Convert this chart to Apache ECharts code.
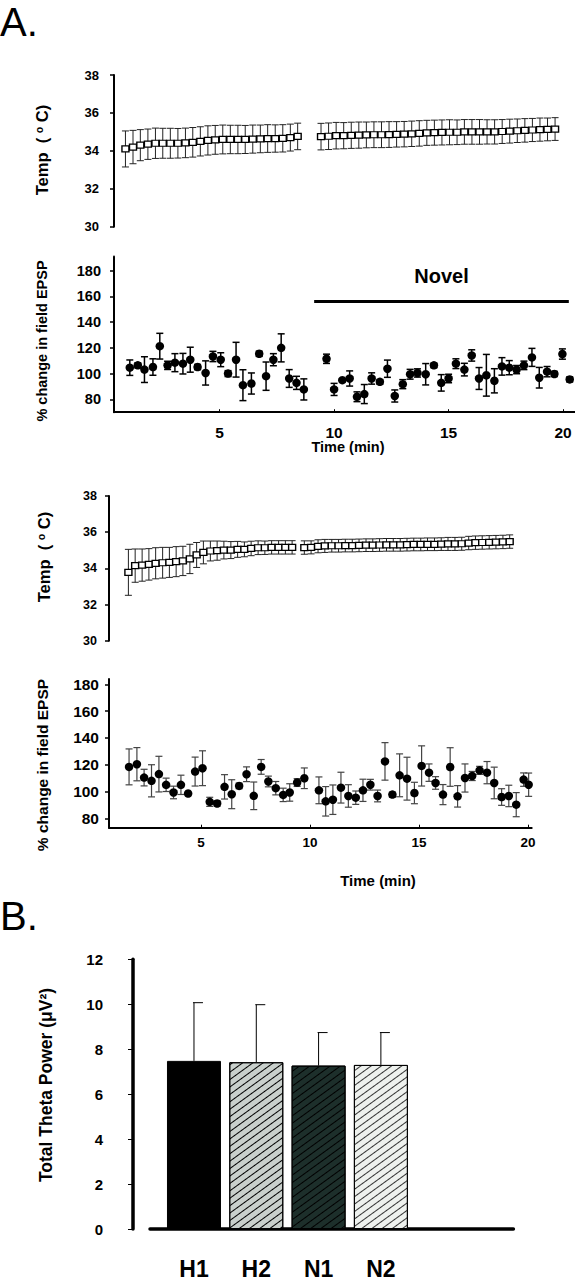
<!DOCTYPE html>
<html><head><meta charset="utf-8">
<script src="https://cdn.jsdelivr.net/npm/echarts@6/dist/echarts.min.js"></script>
<style>html,body{margin:0;padding:0;background:#fff}#c{width:575px;height:1280px}</style>
</head><body><div id="c"></div>
<script>
// ---------- Panel A, Novel: temperature ----------
const novelTempTime = [0.89,1.22,1.54,1.87,2.20,2.52,2.85,3.18,3.51,3.83,4.16,4.49,4.81,5.14,5.47,5.80,6.12,6.45,6.78,7.10,7.43,7.76,8.09,8.41,
  9.43,9.76,10.09,10.42,10.75,11.08,11.41,11.74,12.07,12.40,12.73,13.06,13.39,13.72,14.05,14.38,14.71,15.04,15.37,15.69,16.02,16.35,16.68,17.01,17.34,17.67,18.00,18.33,18.66,18.99,19.32,19.65];
const novelTempMean = [34.10,34.20,34.30,34.35,34.40,34.40,34.40,34.40,34.42,34.45,34.50,34.55,34.58,34.60,34.60,34.60,34.60,34.62,34.63,34.65,34.65,34.66,34.70,34.76,
  34.75,34.77,34.80,34.80,34.82,34.83,34.84,34.85,34.85,34.86,34.87,34.88,34.90,34.92,34.95,34.96,34.97,34.98,34.98,35.00,35.00,35.00,35.00,35.00,35.02,35.04,35.06,35.08,35.10,35.12,35.13,35.15];
const novelTempSem = [0.95,0.88,0.82,0.80,0.80,0.79,0.79,0.78,0.78,0.78,0.77,0.77,0.76,0.76,0.75,0.75,0.74,0.74,0.73,0.73,0.72,0.72,0.71,0.70,
  0.70,0.70,0.70,0.69,0.69,0.69,0.68,0.68,0.68,0.68,0.67,0.67,0.67,0.67,0.66,0.66,0.66,0.66,0.65,0.65,0.65,0.65,0.64,0.64,0.63,0.63,0.62,0.62,0.61,0.61,0.60,0.60];

// ---------- Panel A, Novel: field EPSP ----------
const novelEpspTime = [1.08,1.43,1.72,2.09,2.39,2.73,3.05,3.40,3.72,4.04,4.39,4.71,5.05,5.37,5.72,6.02,6.39,6.73,7.03,7.35,7.69,8.04,8.36,8.68,
  9.67,10.00,10.36,10.68,11.00,11.32,11.64,12.00,12.33,12.65,13.00,13.32,13.64,14.00,14.36,14.68,15.00,15.32,15.69,16.01,16.33,16.65,17.00,17.33,17.65,17.97,18.29,18.64,18.96,19.30,19.62,19.97,20.29];
const novelEpspMean = [104.6,106.4,103.1,105.1,121.3,106.4,108.5,107.7,110.8,105.1,100.5,113.3,110.8,100.0,110.8,91.0,92.3,115.4,98.0,110.8,120.0,96.2,92.8,87.7,
  111.5,87.7,94.9,96.2,82.0,84.1,96.2,93.6,103.8,82.6,91.8,99.5,100.5,99.5,106.4,92.8,96.2,107.7,103.1,114.1,96.2,98.7,94.4,105.6,104.6,103.1,106.4,112.6,96.8,101.5,99.7,115.2,95.5];
const novelEpspSem = [6.0,2.0,10.0,6.4,10.0,3.2,7.0,8.0,9.7,2.0,9.4,4.0,5.4,2.3,13.5,12.0,8.2,2.0,11.0,4.7,10.9,6.9,5.1,8.2,
  3.6,4.7,1.0,5.9,3.8,7.4,4.4,1.8,6.7,4.7,3.5,3.8,3.2,8.3,1.8,6.4,3.3,3.8,4.9,4.4,8.5,16.2,9.4,6.8,5.5,3.2,3.3,7.0,8.0,4.0,2.0,4.0,2.0];
const novelPeriod = [9.13, 20.25];

// ---------- Panel A, Home: temperature ----------
const homeTempTime = [1.67,1.98,2.30,2.61,2.92,3.24,3.55,3.86,4.17,4.49,4.80,5.11,5.43,5.74,6.05,6.37,6.68,6.99,7.30,7.62,7.93,8.24,8.56,8.87,9.18,
  9.74,10.05,10.37,10.68,11.00,11.31,11.62,11.94,12.25,12.57,12.88,13.19,13.51,13.82,14.14,14.45,14.76,15.08,15.39,15.71,16.02,16.33,16.65,16.96,17.28,17.59,17.90,18.22,18.53,18.85,19.16];
const homeTempMean = [33.78,34.15,34.18,34.22,34.28,34.31,34.33,34.37,34.41,34.52,34.74,34.88,34.96,34.98,35.01,35.01,35.05,35.05,35.10,35.14,35.14,35.16,35.16,35.16,35.16,
  35.15,35.16,35.22,35.24,35.25,35.25,35.26,35.26,35.27,35.28,35.28,35.29,35.30,35.30,35.30,35.31,35.32,35.32,35.33,35.33,35.34,35.35,35.35,35.36,35.40,35.42,35.43,35.44,35.45,35.46,35.48];
const homeTempSem = [1.27,0.92,0.89,0.87,0.86,0.85,0.83,0.83,0.81,0.81,0.69,0.63,0.55,0.53,0.49,0.47,0.44,0.41,0.40,0.38,0.37,0.37,0.37,0.37,0.37,
  0.37,0.36,0.36,0.36,0.35,0.35,0.35,0.35,0.35,0.35,0.35,0.35,0.35,0.35,0.35,0.35,0.35,0.35,0.35,0.35,0.35,0.36,0.36,0.36,0.37,0.37,0.37,0.37,0.37,0.37,0.37];

// ---------- Panel A, Home: field EPSP ----------
const homeEpspTime = [1.70,2.06,2.39,2.73,3.07,3.40,3.74,4.08,4.41,4.73,5.07,5.40,5.74,6.08,6.41,6.75,7.09,7.42,7.76,8.09,8.43,8.77,9.07,9.41,9.74,
  10.41,10.72,11.05,11.42,11.76,12.10,12.43,12.77,13.10,13.44,13.78,14.11,14.45,14.79,15.12,15.46,15.76,16.10,16.43,16.77,17.11,17.44,17.78,18.12,18.45,18.79,19.12,19.46,19.80,20.03];
const homeEpspMean = [118.4,120.4,110.4,108.0,113.0,105.0,99.3,105.0,98.5,114.9,117.4,92.3,91.1,103.5,98.0,104.2,112.9,96.8,118.4,107.5,102.5,97.5,99.3,106.7,109.9,
  100.9,92.7,93.9,102.9,96.7,95.4,100.9,105.1,96.7,122.5,97.7,112.1,109.6,98.9,119.1,114.1,106.4,97.7,118.3,96.4,110.1,111.6,115.8,114.1,106.4,95.9,96.7,90.2,108.9,105.1];
const homeEpspSem = [13.4,12.4,6.2,12.0,13.3,5.0,4.7,7.2,0.5,10.8,13.0,3.4,2.1,9.1,10.8,2.1,5.5,10.3,5.5,4.0,5.0,5.0,6.5,2.9,7.7,
  10.0,11.0,11.0,11.5,8.4,5.0,8.3,4.0,4.4,14.0,2.0,16.0,16.0,8.0,15.0,6.5,4.7,7.5,14.4,8.0,10.5,3.4,3.0,8.3,11.8,6.2,8.0,9.0,5.0,8.7];
const homePeriod = [10.25, 20.36];

// ---------- Panel B: theta power ----------
const thetaCats = ['H1', 'H2', 'N1', 'N2'];
const thetaMean = [7.48, 7.42, 7.27, 7.30];
const thetaSem = [2.59, 2.56, 1.47, 1.44];

// tick labels
const tempTicks = [30, 32, 34, 36, 38];
const epspTicks = [80, 100, 120, 140, 160, 180];
const timeTicks = [5, 10, 15, 20];
const thetaTicks = [0, 2, 4, 6, 8, 10, 12];

const zip2 = (a, b) => a.map((v, i) => [v, b[i]]);
const zip3 = (a, b, c) => a.map((v, i) => [v, b[i], c[i]]);

const FONT = 'Liberation Sans, Arial, sans-serif';
const NARROW = 'Liberation Sans Narrow, Liberation Sans, Arial, sans-serif';

function errorBars(capL, capR, color, width, upperOnly) {
  return function (params, api) {
    const x = api.value(0), m = api.value(1), e = api.value(2);
    const hi = api.coord([x, m + e]);
    const lo = upperOnly ? api.coord([x, m]) : api.coord([x, m - e]);
    const st = () => ({ stroke: color, lineWidth: width, fill: null });
    const kids = [
      { type: 'line', shape: { x1: hi[0], y1: hi[1], x2: lo[0], y2: lo[1] }, style: st() },
      { type: 'line', shape: { x1: hi[0] - capL, y1: hi[1], x2: hi[0] + capR, y2: hi[1] }, style: st() }
    ];
    if (!upperOnly) kids.push({ type: 'line', shape: { x1: lo[0] - capL, y1: lo[1], x2: lo[0] + capR, y2: lo[1] }, style: st() });
    return { type: 'group', children: kids };
  };
}

const tickLabel = (size, margin) => ({ color: '#000', fontSize: size, fontWeight: 'bold', fontFamily: FONT, margin: margin });
const axisLine = (w) => ({ show: true, onZero: false, lineStyle: { color: '#000', width: w } });

const periodMark = (period, level, text, dist) => ({
  silent: true, symbol: ['none', 'none'],
  lineStyle: { color: '#000', width: 3, type: 'solid' },
  label: { show: true, position: 'insideMiddleTop', formatter: text, distance: dist,
           color: '#000', fontSize: 20, fontWeight: 'bold', fontFamily: FONT },
  data: [[{ coord: [period[0], level] }, { coord: [period[1], level] }]]
});

const hatch = (c) => ({ symbol: 'rect', symbolSize: 1, dashArrayX: [1, 0], dashArrayY: [1, 5], rotation: -Math.PI / 5, color: c });
const rot = (x, y, size, rich) => ({ type: 'text', x: x, y: y, rotation: Math.PI / 2,
  style: Object.assign({ align: 'center', verticalAlign: 'middle', textAlign: 'center', textVerticalAlign: 'middle', fill: '#000',
                         fontSize: size, fontWeight: 'bold', fontFamily: FONT }, rich) });

const tempTitle = (size) => ({ text: '{a|Temp  ( }{s|o}{a| C)}',
  rich: { a: { fontSize: size, fontWeight: 'bold', fontFamily: FONT }, s: { fontSize: size * 0.65, fontWeight: 'bold', fontFamily: FONT, verticalAlign: 'top' } } });

const option = {
  animation: false,
  backgroundColor: '#fff',
  grid: [
    { left: 114, width: 461, top: 75, height: 151.7 },
    { left: 114, width: 461, top: 256.5, height: 155.7 },
    { left: 109, width: 422.7, top: 496, height: 144.7 },
    { left: 109, width: 422.7, top: 679, height: 148.7 },
    { left: 150, width: 363.4, top: 959.3, height: 270 }
  ],
  xAxis: [
    { gridIndex: 0, type: 'value', min: 0.39, max: 20.52, show: false },
    { gridIndex: 1, type: 'value', min: 0.39, max: 20.52,
      axisLine: axisLine(2),
      axisTick: { show: true, inside: true, length: 3, customValues: timeTicks, lineStyle: { color: '#000' } },
      axisLabel: Object.assign(tickLabel(15.5, 12), { customValues: timeTicks }),
      splitLine: { show: false } },
    { gridIndex: 2, type: 'value', min: 0.78, max: 20.17, show: false },
    { gridIndex: 3, type: 'value', min: 0.78, max: 20.17,
      axisLine: axisLine(2),
      axisTick: { show: true, inside: true, length: 3, customValues: timeTicks, lineStyle: { color: '#000' } },
      axisLabel: Object.assign(tickLabel(13.5, 8), { customValues: timeTicks }),
      splitLine: { show: false } },
    { gridIndex: 4, type: 'value', min: -0.706, max: 5.127,
      axisLine: axisLine(3.5), axisTick: { show: false },
      axisLabel: { customValues: thetaCats.map((c, i) => i), formatter: v => thetaCats[v] || '',
                   color: '#000', fontSize: 23, fontWeight: 'bold', fontFamily: NARROW, margin: 28 },
      splitLine: { show: false } }
  ],
  yAxis: [
    { gridIndex: 0, type: 'value', min: 30, max: 38, interval: 2,
      axisLine: axisLine(2), axisTick: { show: true, length: 4, lineStyle: { color: '#000', width: 1.5 } },
      axisLabel: Object.assign(tickLabel(13, 15), { customValues: tempTicks }), splitLine: { show: false } },
    { gridIndex: 1, type: 'value', min: 70, max: 191,
      axisLine: axisLine(2), axisTick: { show: true, length: 4, customValues: epspTicks, lineStyle: { color: '#000', width: 1.5 } },
      axisLabel: Object.assign(tickLabel(14.5, 13), { customValues: epspTicks }), splitLine: { show: false } },
    { gridIndex: 2, type: 'value', min: 30, max: 38, interval: 2,
      axisLine: axisLine(2), axisTick: { show: true, length: 4, lineStyle: { color: '#000', width: 1.5 } },
      axisLabel: Object.assign(tickLabel(12.5, 12), { customValues: tempTicks }), splitLine: { show: false } },
    { gridIndex: 3, type: 'value', min: 73, max: 184,
      axisLine: axisLine(2), axisTick: { show: true, length: 4, customValues: epspTicks, lineStyle: { color: '#000', width: 1.5 } },
      axisLabel: Object.assign(tickLabel(15.5, 10), { customValues: epspTicks }), splitLine: { show: false } },
    { gridIndex: 4, type: 'value', min: 0, max: 12, interval: 2, offset: 17,
      axisLine: axisLine(3.5), axisTick: { show: true, length: 5, lineStyle: { color: '#000', width: 1 } },
      axisLabel: Object.assign(tickLabel(15, 30), { customValues: thetaTicks }), splitLine: { show: false } }
  ],
  graphic: { elements: [
    { type: 'text', left: 0, top: 2, style: { text: 'A.', fontSize: 40, fontFamily: NARROW, fill: '#000' } },
    { type: 'text', left: 0, top: 896, style: { text: 'B.', fontSize: 40, fontFamily: NARROW, fill: '#000' } },
    rot(42, 150, 16.5, tempTitle(16.5)),
    rot(42, 341, 14.5, { text: '% change in field EPSP' }),
    { type: 'text', x: 348, y: 447,
      style: { text: 'Time (min)', align: 'center', verticalAlign: 'middle', textAlign: 'center', textVerticalAlign: 'middle',
               fontSize: 14.5, fontWeight: 'bold', fontFamily: FONT, fill: '#000' } },
    rot(44, 557, 16.5, tempTitle(16.5)),
    rot(42, 765, 15.5, { text: '% change in field EPSP' }),
    { type: 'text', x: 378, y: 880,
      style: { text: 'Time (min)', align: 'center', verticalAlign: 'middle', textAlign: 'center', textVerticalAlign: 'middle',
               fontSize: 15, fontWeight: 'bold', fontFamily: FONT, fill: '#000' } },
    rot(46, 1085, 17.5, { text: 'Total Theta Power (μV²)' })
  ] },
  series: [
    // Novel temperature
    { type: 'custom', xAxisIndex: 0, yAxisIndex: 0, silent: true, z: 2,
      renderItem: errorBars(3.5, 3.5, '#222', 1, false), data: zip3(novelTempTime, novelTempMean, novelTempSem) },
    { type: 'scatter', xAxisIndex: 0, yAxisIndex: 0, silent: true, z: 3, symbol: 'rect', symbolSize: [7, 6],
      itemStyle: { color: '#fff', borderColor: '#000', borderWidth: 1.3, opacity: 1 }, data: zip2(novelTempTime, novelTempMean) },
    // Novel EPSP
    { type: 'custom', xAxisIndex: 1, yAxisIndex: 1, silent: true, z: 2,
      renderItem: errorBars(3.5, 3.5, '#000', 1.5, false), data: zip3(novelEpspTime, novelEpspMean, novelEpspSem) },
    { type: 'scatter', xAxisIndex: 1, yAxisIndex: 1, silent: true, z: 3, symbol: 'circle', symbolSize: 8.5,
      itemStyle: { color: '#000', opacity: 1 }, data: zip2(novelEpspTime, novelEpspMean),
      markLine: periodMark(novelPeriod, 156, 'Novel', 16) },
    // Home temperature
    { type: 'custom', xAxisIndex: 2, yAxisIndex: 2, silent: true, z: 2,
      renderItem: errorBars(3.5, 3.5, '#222', 1, false), data: zip3(homeTempTime, homeTempMean, homeTempSem) },
    { type: 'scatter', xAxisIndex: 2, yAxisIndex: 2, silent: true, z: 3, symbol: 'rect', symbolSize: [7, 6],
      itemStyle: { color: '#fff', borderColor: '#000', borderWidth: 1.3, opacity: 1 }, data: zip2(homeTempTime, homeTempMean) },
    // Home EPSP
    { type: 'custom', xAxisIndex: 3, yAxisIndex: 3, silent: true, z: 2,
      renderItem: errorBars(3.5, 3.5, '#444', 1.2, false), data: zip3(homeEpspTime, homeEpspMean, homeEpspSem) },
    { type: 'scatter', xAxisIndex: 3, yAxisIndex: 3, silent: true, z: 3, symbol: 'circle', symbolSize: 8.5,
      itemStyle: { color: '#000', opacity: 1 }, data: zip2(homeEpspTime, homeEpspMean),
      markLine: periodMark(homePeriod, 173, 'Home', 9) },
    // Theta bars
    { type: 'bar', xAxisIndex: 4, yAxisIndex: 4, silent: true, barWidth: 54, z: 2,
      data: thetaMean.map((v, i) => ({ value: [i, v], itemStyle: [
        { color: '#000' },
        { color: '#c9d0cc', decal: hatch('#000') },
        { color: '#1d2f2b', decal: hatch('#000') },
        { color: '#eef1ee', decal: hatch('#333') }
      ][i] })),
      itemStyle: { borderColor: '#000', borderWidth: 1 } },
    { type: 'custom', xAxisIndex: 4, yAxisIndex: 4, silent: true, z: 3,
      renderItem: errorBars(1, 9, '#000', 1, true), data: zip3(thetaCats.map((c, i) => i), thetaMean, thetaSem) }
  ]
};

const chart = echarts.init(document.getElementById('c'), null, { renderer: 'svg', width: 575, height: 1280 });
chart.setOption(option);
</script>
</body></html>
